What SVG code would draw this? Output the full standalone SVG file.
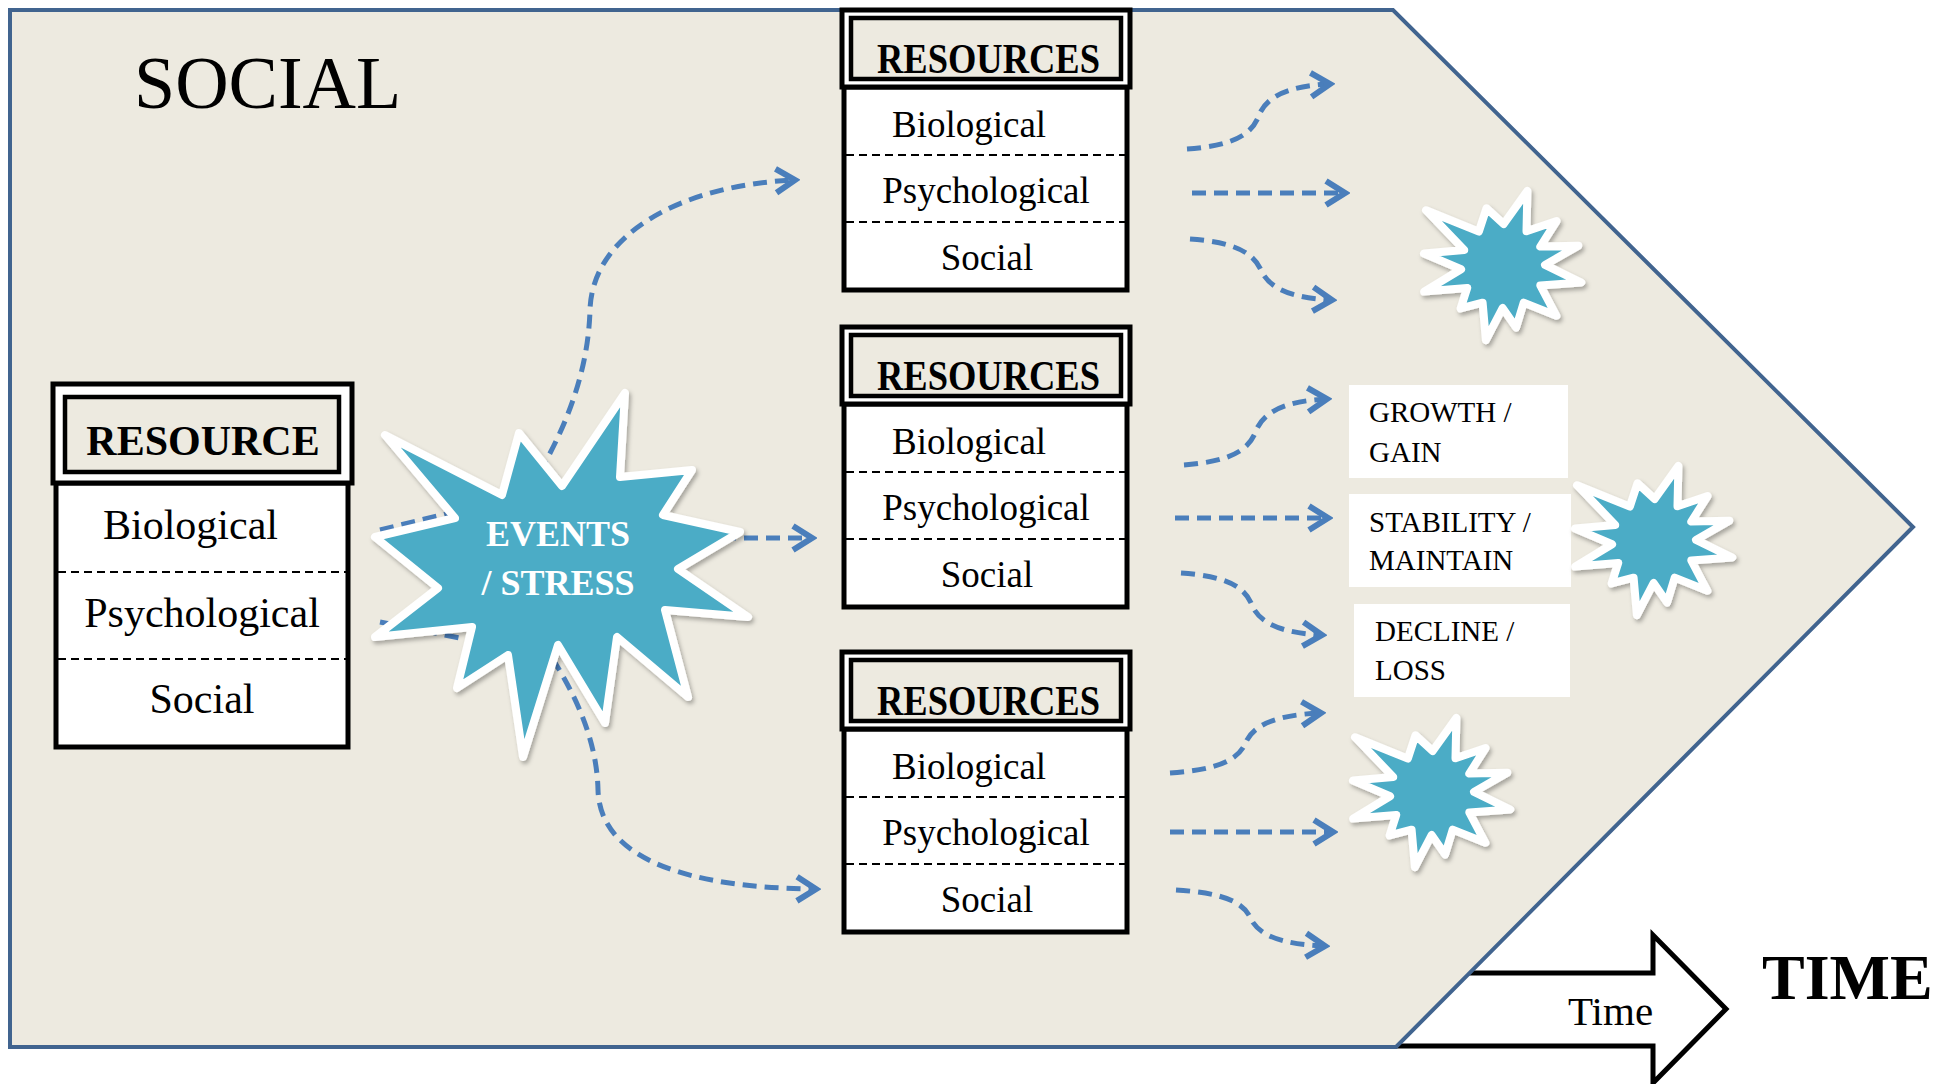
<svg xmlns="http://www.w3.org/2000/svg" width="1954" height="1084" viewBox="0 0 1954 1084">
  <defs>
    <style>
      .txt { font-family: "Liberation Serif", "Times New Roman", serif; fill: #000; }
      .hdr { font-weight: bold; }
      .outer { fill: #fff; stroke: #000; stroke-width: 5; }
      .inner { fill: #EDEAE0; stroke: #000; stroke-width: 4.5; }
      .body { fill: #fff; stroke: #000; stroke-width: 5; }
      .sep { stroke: #000; stroke-width: 2; stroke-dasharray: 8 5; fill: none; }
      .conn { fill: none; stroke: #4A7EBB; stroke-width: 5; stroke-dasharray: 14 8; }
      .star { fill: #4BACC6; stroke: #fff; stroke-width: 8; stroke-linejoin: round; filter: url(#shadow); }
      .label { fill: #fff; }
    </style>
    <filter id="shadow" x="-20%" y="-20%" width="140%" height="140%">
      <feDropShadow dx="2" dy="3" stdDeviation="2" flood-color="#000" flood-opacity="0.3"/>
    </filter>
    <marker id="chev" viewBox="0 0 28 30" refX="23" refY="15" markerWidth="28" markerHeight="30" markerUnits="userSpaceOnUse" orient="auto">
      <path d="M4,3 L23,15 L4,27" fill="none" stroke="#4A7EBB" stroke-width="6"/>
    </marker>
    <path id="smallstar" d="M-76.9,-55.8 L-24.1,-34.4 L-16.5,-57.7 L0.7,-42 L24.4,-75.1 L23.5,-34.8 L53.6,-45 L37.3,-19.4 L75.3,-20.2 L42,-1.1 L78.3,16.6 L37.3,19.4 L53.4,49.8 L20.7,36.6 L13.1,61.6 L-0.4,42 L-17.1,74.1 L-20.4,36.7 L-42.4,42.4 L-35.8,21.9 L-78.9,25.6 L-41.9,3.3 L-79,-12.5 L-38.8,-16.1 Z"/>
  </defs>

  <rect x="0" y="0" width="1954" height="1084" fill="#fff"/>

  <!-- Time arrow (behind background shape) -->
  <g id="time-arrow">
    <path d="M1300,973 L1653,973 L1653,935 L1726,1009 L1653,1083 L1653,1046 L1300,1046 Z" fill="#fff" stroke="#000" stroke-width="5"/>
  </g>

  <!-- Background chevron shape -->
  <g id="background">
    <path d="M10,10 L1393,10 L1913,527 L1396,1047 L10,1047 Z" fill="#EDEAE0" stroke="#41648F" stroke-width="4"/>
  </g>

  <text class="txt" x="1568" y="1025" font-size="41">Time</text>
  <text class="txt hdr" x="1762" y="999" font-size="64">TIME</text>

  <text class="txt" x="134" y="108" font-size="74">SOCIAL</text>

  <!-- Connectors -->
  <g id="connectors">
    <path class="conn" d="M380,530 L470,508"/>
    <path class="conn" d="M380,622 L470,640"/>
    <path class="conn" marker-end="url(#chev)" d="M528,492 C560,440 588,380 590,310 C592,235 680,185 795,180"/>
    <path class="conn" marker-end="url(#chev)" d="M700,538 L812,538"/>
    <path class="conn" marker-end="url(#chev)" d="M540,640 C575,690 597,740 598,790 C600,860 690,888 816,889"/>

    <path class="conn" marker-end="url(#chev)" d="M1187,149 C1230,146 1251,136 1258.5,116.5 C1265.6,97 1287,86 1330,84"/>
    <path class="conn" marker-end="url(#chev)" d="M1192,193 L1345,193"/>
    <path class="conn" marker-end="url(#chev)" d="M1190,239 C1233,242 1253,252 1261,270 C1269,288 1290,298 1332,300"/>

    <path class="conn" marker-end="url(#chev)" d="M1184,465 C1227,461.7 1248,451.8 1255.5,432 C1262.7,412.2 1284,401 1327,399"/>
    <path class="conn" marker-end="url(#chev)" d="M1175,518 L1328,518"/>
    <path class="conn" marker-end="url(#chev)" d="M1181,573 C1223,576 1244,585.4 1251.5,604 C1258.6,622.6 1280,633 1322,635"/>

    <path class="conn" marker-end="url(#chev)" d="M1170,773 C1215,770 1238,761 1245.5,743 C1253,725 1276,714.8 1321,713"/>
    <path class="conn" marker-end="url(#chev)" d="M1170,832 L1333,832"/>
    <path class="conn" marker-end="url(#chev)" d="M1176,890 C1221,892.8 1243,901.2 1250.5,918 C1258,934.8 1280,944.3 1325,946"/>
  </g>

  <!-- Left RESOURCE box -->
  <g id="resource-initial">
    <rect class="body" x="56" y="483" width="292" height="264"/>
    <rect class="outer" x="53" y="384" width="299" height="99"/>
    <rect class="inner" x="65" y="397" width="274" height="75"/>
    <text class="txt hdr" x="203" y="455" font-size="42" text-anchor="middle">RESOURCE</text>
    <line class="sep" x1="58" y1="572" x2="346" y2="572"/>
    <line class="sep" x1="58" y1="659" x2="346" y2="659"/>
    <text class="txt" x="103" y="539" font-size="42">Biological</text>
    <text class="txt" x="202" y="627" font-size="42" text-anchor="middle">Psychological</text>
    <text class="txt" x="202" y="713" font-size="42" text-anchor="middle">Social</text>
  </g>

  <!-- Events / Stress star -->
  <g id="events-stress">
    <path class="star" d="M385,435 L502,495 L519,433 L562,486 L625,393 L620,477 L692,470 L663,515 L740,532 L678,569 L748,617 L665,610 L688,697 L617,637 L605,723 L558,645 L523,757 L508,655 L457,688 L472,627 L375,637 L438,588 L375,537 L455,518 Z"/>
    <text class="txt hdr label" x="558" y="546" font-size="36" text-anchor="middle">EVENTS</text>
    <text class="txt hdr label" x="558" y="595" font-size="36" text-anchor="middle">/ STRESS</text>
  </g>

  <!-- Resources box 1 -->
  <g id="resources-1">
    <rect class="body" x="844" y="87" width="283" height="203"/>
    <rect class="outer" x="842" y="10" width="288" height="77"/>
    <rect class="inner" x="851" y="18" width="270" height="61"/>
    <text class="txt hdr" x="877" y="73" font-size="42" textLength="223" lengthAdjust="spacingAndGlyphs">RESOURCES</text>
    <line class="sep" x1="846" y1="155" x2="1125" y2="155"/>
    <line class="sep" x1="846" y1="222" x2="1125" y2="222"/>
    <text class="txt" x="892" y="137" font-size="37">Biological</text>
    <text class="txt" x="986" y="203" font-size="37" text-anchor="middle">Psychological</text>
    <text class="txt" x="987" y="270" font-size="37" text-anchor="middle">Social</text>
  </g>

  <!-- Resources box 2 -->
  <g id="resources-2">
    <rect class="body" x="844" y="404" width="283" height="203"/>
    <rect class="outer" x="842" y="327" width="288" height="77"/>
    <rect class="inner" x="851" y="335" width="270" height="61"/>
    <text class="txt hdr" x="877" y="390" font-size="42" textLength="223" lengthAdjust="spacingAndGlyphs">RESOURCES</text>
    <line class="sep" x1="846" y1="472" x2="1125" y2="472"/>
    <line class="sep" x1="846" y1="539" x2="1125" y2="539"/>
    <text class="txt" x="892" y="454" font-size="37">Biological</text>
    <text class="txt" x="986" y="520" font-size="37" text-anchor="middle">Psychological</text>
    <text class="txt" x="987" y="587" font-size="37" text-anchor="middle">Social</text>
  </g>

  <!-- Resources box 3 -->
  <g id="resources-3">
    <rect class="body" x="844" y="729" width="283" height="203"/>
    <rect class="outer" x="842" y="652" width="288" height="77"/>
    <rect class="inner" x="851" y="660" width="270" height="61"/>
    <text class="txt hdr" x="877" y="715" font-size="42" textLength="223" lengthAdjust="spacingAndGlyphs">RESOURCES</text>
    <line class="sep" x1="846" y1="797" x2="1125" y2="797"/>
    <line class="sep" x1="846" y1="864" x2="1125" y2="864"/>
    <text class="txt" x="892" y="779" font-size="37">Biological</text>
    <text class="txt" x="986" y="845" font-size="37" text-anchor="middle">Psychological</text>
    <text class="txt" x="987" y="912" font-size="37" text-anchor="middle">Social</text>
  </g>

  <!-- Outcome labels -->
  <g id="growth-gain">
    <rect x="1349" y="385" width="219" height="93" fill="#fff"/>
    <text class="txt" x="1369" y="422" font-size="29">GROWTH /</text>
    <text class="txt" x="1369" y="462" font-size="29">GAIN</text>
  </g>
  <g id="stability-maintain">
    <rect x="1349" y="494" width="222" height="93" fill="#fff"/>
    <text class="txt" x="1369" y="532" font-size="29">STABILITY /</text>
    <text class="txt" x="1369" y="570" font-size="29">MAINTAIN</text>
  </g>
  <g id="decline-loss">
    <rect x="1354" y="604" width="216" height="93" fill="#fff"/>
    <text class="txt" x="1375" y="641" font-size="29">DECLINE /</text>
    <text class="txt" x="1375" y="680" font-size="29">LOSS</text>
  </g>

  <!-- Small stars -->
  <g id="star-a"><use href="#smallstar" class="star" transform="translate(1503,266)"/></g>
  <g id="star-b"><use href="#smallstar" class="star" transform="translate(1654,541)"/></g>
  <g id="star-c"><use href="#smallstar" class="star" transform="translate(1432,793)"/></g>
</svg>
